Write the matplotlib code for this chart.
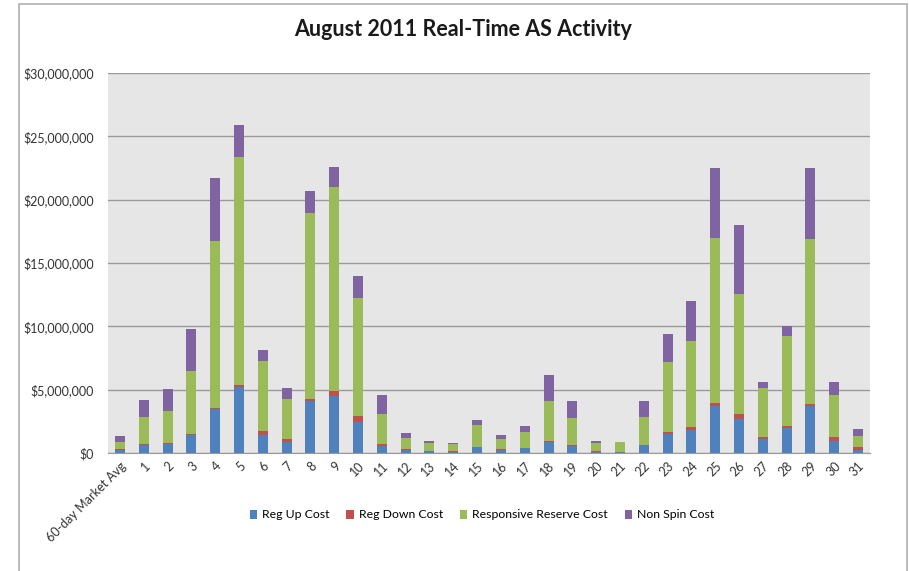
import numpy as np
import matplotlib.pyplot as plt
from matplotlib.patches import Rectangle
from matplotlib.ticker import FuncFormatter

# categories and cost series (millions of dollars)
categories = ['60-day Market Avg'] + [str(d) for d in range(1, 32)]
reg_up = [0.25, 0.66, 0.74, 1.45, 3.5, 5.18, 1.4, 0.84, 4.08, 4.53, 2.42, 0.53, 0.26, 0.13, 0.05, 0.47,
          0.26, 0.39, 0.87, 0.53, 0.1, 0.08, 0.6, 1.53, 1.84, 3.68, 2.68, 1.13, 1.97, 3.68, 0.92, 0.26]
reg_down = [0.05, 0.05, 0.05, 0.05, 0.05, 0.16, 0.3, 0.26, 0.18, 0.34, 0.48, 0.21, 0.03, 0.03, 0.08, 0.03,
            0.05, 0.03, 0.1, 0.13, 0.03, 0.03, 0.03, 0.1, 0.19, 0.27, 0.4, 0.13, 0.13, 0.19, 0.32, 0.19]
resp_reserve = [0.6, 2.13, 2.55, 4.95, 13.15, 18.06, 5.54, 3.16, 14.7, 16.1, 9.34, 2.36, 0.9, 0.63, 0.61, 1.74,
                0.79, 1.21, 3.11, 2.1, 0.66, 0.73, 2.19, 5.55, 6.84, 13.02, 9.5, 3.87, 7.1, 13.03, 3.31, 0.92]
non_spin = [0.45, 1.37, 1.7, 3.35, 5.0, 2.5, 0.92, 0.87, 1.7, 1.58, 1.71, 1.5, 0.4, 0.18, 0.05, 0.34,
            0.3, 0.53, 2.05, 1.32, 0.18, 0.03, 1.26, 2.24, 3.16, 5.53, 5.39, 0.47, 0.79, 5.6, 1.05, 0.55]

series = [
    ('Reg Up Cost', reg_up, '#4f81bd'),
    ('Reg Down Cost', reg_down, '#c0504d'),
    ('Responsive Reserve Cost', resp_reserve, '#9bbb59'),
    ('Non Spin Cost', non_spin, '#8064a2'),
]

plt.rcParams['font.family'] = ['Lato', 'DejaVu Sans']

fig = plt.figure(figsize=(9.09, 5.71), dpi=100)
# chart border
fig.patches.append(Rectangle((19 / 909, -0.02), 888 / 909, 1 - 4 / 571 + 0.02, transform=fig.transFigure,
                             fill=False, edgecolor='#b0b0b0', linewidth=1.2))

ax = fig.add_axes([108 / 909, 118 / 571, 762 / 909, 380 / 571])
ax.set_facecolor('#e6e6e6')

x = np.arange(len(categories))
bottom = np.zeros(len(categories))
for name, vals, color in series:
    v = np.array(vals) * 1e6
    ax.bar(x, v, 0.42, bottom=bottom, color=color, label=name, zorder=3)
    bottom += v

ax.set_ylim(0, 30e6)
ax.set_xlim(-0.5, len(categories) - 0.5)
ax.set_yticks(np.arange(0, 30e6 + 1, 5e6))
ax.yaxis.set_major_formatter(FuncFormatter(lambda v, p: '${:,.0f}'.format(v)))
ax.grid(axis='y', color='#9a9a9a', linewidth=1, zorder=1)
for s in ['top', 'right', 'left']:
    ax.spines[s].set_visible(False)
ax.spines['bottom'].set_color('#9a9a9a')
ax.tick_params(axis='y', length=0, pad=10, labelsize=9, labelcolor='#333333')
ax.tick_params(axis='x', length=0, pad=5, labelsize=9, labelcolor='#333333')
ax.set_xticks(x)
ax.set_xticklabels(categories, rotation=45, ha='right', rotation_mode='anchor')

fig.text(463 / 909, 1 - 29 / 571, 'August 2011 Real-Time AS Activity', ha='center', va='center',
         fontsize=15.5, fontweight='bold', color='#1a1a1a')

fig.legend(loc='center', bbox_to_anchor=(482 / 909, 1 - 515 / 571), ncol=4, frameon=False,
           fontsize=8.8, handlelength=0.6, handleheight=0.8, handletextpad=0.4, columnspacing=1.4)

fig.savefig('out.png', dpi=100)
